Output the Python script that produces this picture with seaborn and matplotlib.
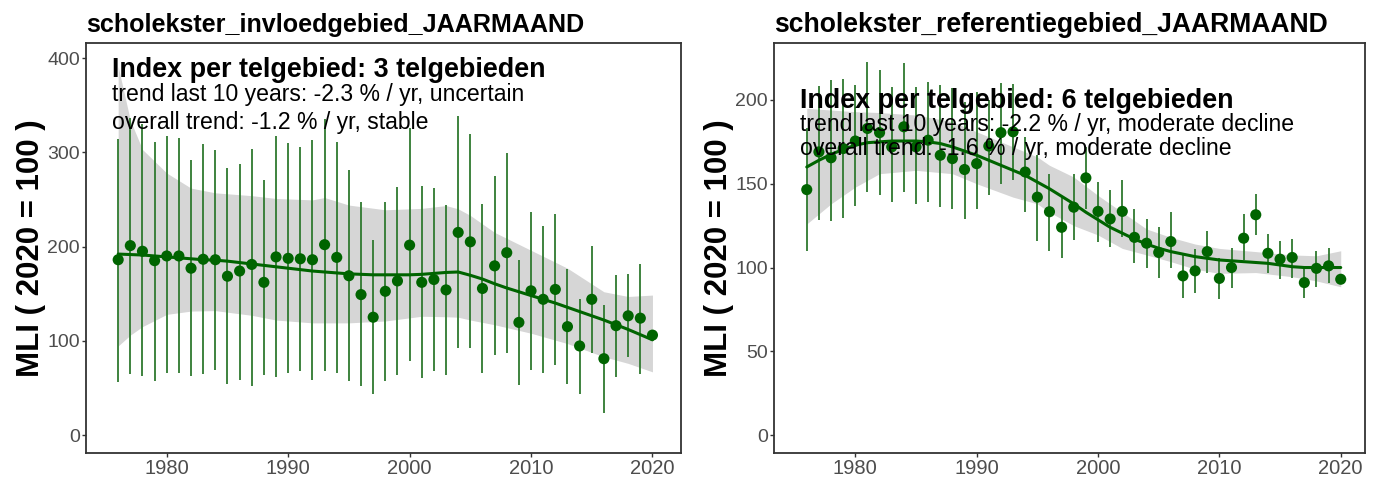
import numpy as np
import pandas as pd
import matplotlib
matplotlib.use("Agg")
import matplotlib.pyplot as plt
import seaborn as sns

years = list(range(1976, 2021))
nan = np.nan

# ---- left panel: invloedgebied ----
left_title = "scholekster_invloedgebied_JAARMAAND"
left_lines = ["Index per telgebied: 3 telgebieden",
              "trend last 10 years: -2.3 % / yr, uncertain",
              "overall trend: -1.2 % / yr, stable"]
left_index = [186, 201, 195, 185, 190, 190, 177, 186.5, 186, 168.5, 174, 181, 162, 189, 187.5,
              187, 186, 202, 188.5, 169, 149, 125, 152.5, 163.5, 201.5, 162, 165, 154, 215, 205,
              155.5, 179.5, 193.5, 119.5, 153, 144, 154.5, 115, 94.5, 144, 81, 116, 126.5, 124, 106]
left_upper = [314, 336, 330, 311, 317, 315.5, 292, 309, 302.5, 283, 287.5, 303.5, 270.5, 317, 309.5,
              306, 313.5, 335, 311, 281, 247.5, 207, 247, 263.5, 325.5, 264, 262.5, 244, 338.5, 319,
              245, 275, 299.5, 186, 236.5, 222, 234.5, 176, 144, 201, 138, 170, 170.5, 182, nan]
left_lower = [56.5, 64.5, 63, 57.5, 65.5, 65.5, 62.5, 64.5, 69, 54, 58.5, 52.5, 63.5, 62, 66,
              68, 58.5, 68, 65.5, 57.5, 52, 43.5, 57.5, 63.5, 79, 60, 68, 63.5, 92, 92,
              65.5, 85, 87.5, 53, 69, 65.5, 74.5, 54, 43.5, 86.5, 23, 62, 82.5, 64.5, nan]
left_trend = [192, 191.5, 191, 190, 189, 188, 187, 186, 185.5, 184.5, 183, 181.5, 180, 178.5, 177,
              175.5, 174, 173, 172, 171, 170.5, 170, 170, 170, 170, 170.5, 171.5, 172.5, 173, 169.5,
              165.5, 160.5, 156, 152, 148, 144, 140, 135.5, 131, 126.5, 122, 117, 112, 106.5, 101]
left_band_years = [1976, 1977, 1978, 1980, 1982, 1984, 1987, 1989, 1992, 1993, 1995, 1998, 2001,
                   2003, 2004, 2005, 2007, 2010, 2013, 2016, 2018, 2020]
left_band_upper = [391, 334, 303, 278, 262, 257, 254, 251, 249.5, 252, 244, 239, 240.5,
                   243.5, 240, 233, 215, 196, 177, 152, 147, 148.5]
left_band_lower = [94.5, 106, 115, 128, 131.5, 132, 127, 122, 119, 119, 119, 121, 126,
                   125.5, 125, 122, 117, 108, 97, 83, 76, 67]

# ---- right panel: referentiegebied ----
right_title = "scholekster_referentiegebied_JAARMAAND"
right_lines = ["Index per telgebied: 6 telgebieden",
               "trend last 10 years: -2.2 % / yr, moderate decline",
               "overall trend: -1.6 % / yr, moderate decline"]
right_index = [146.5, 169, 165.5, 171, 175.5, 183, 180.5, 172, 184, 172, 176, 167, 165, 158.5, 162,
               172.5, 180.5, 181, 157, 142, 133.3, 124, 136, 153.5, 133.5, 129, 133.5, 118, 114.5, 109,
               115.5, 95, 98, 109.5, 93.5, 100, 117.5, 131.5, 108.5, 105, 106, 91, 99.5, 101, 93]
right_upper = [183, 208.5, 212, 212.5, 209, 222.5, 218, 208, 222, 208, 211, 209, 207, 199, 205,
               200, 210, 209.5, 178, 167, 156, 142, 156, 172, 151, 146, 152, 135, 129, 124,
               133, 107.5, 111, 122, 105.5, 111.5, 132, 144, 120, 116, 117, 100.5, 110, 111.5, nan]
right_lower = [110, 128.5, 128, 129.5, 137, 145, 143, 139, 145, 138, 139, 136, 135, 129, 135,
               143, 150, 152.5, 133, 116, 110, 105.5, 116.5, 135, 115.5, 112.5, 118.5, 102.5, 99.5, 93.5,
               99.5, 82, 84.5, 96.5, 81, 88, 104.5, 119.5, 96.5, 93, 94, 82, 88.5, 90.5, nan]
right_trend = [160, 164, 167.5, 170.5, 173, 174.5, 175, 175.5, 175.5, 175.5, 175, 174, 172, 169.5, 167,
               164, 161, 158, 155, 151, 147, 142.5, 138, 133, 128.5, 124, 120.5, 117, 114, 111.5,
               109.5, 108, 106.5, 105.5, 104.5, 104, 103.5, 103, 102.5, 101.5, 100.5, 100, 100, 100, 100]
right_band_years = [1976, 1978, 1980, 1982, 1985, 1988, 1990, 1993, 1995, 1996, 1998, 2000, 2002,
                    2004, 2006, 2008, 2010, 2013, 2016, 2018, 2020]
right_band_upper = [195, 194, 193, 192.5, 191, 187, 181, 172, 166, 161, 154, 143, 133,
                    123, 118, 114, 111.4, 109.5, 107.5, 107, 110]
right_band_lower = [126, 138, 148, 156, 158, 156, 150, 142, 138, 133, 125, 119.4, 111.4,
                    107.5, 103.5, 99, 96.5, 97, 94.5, 92, 88.5]

ylabel = "MLI ( 2020 = 100 )"
xticks = [1980, 1990, 2000, 2010, 2020]
left_yticks = [0, 100, 200, 300, 400]
right_yticks = [0, 50, 100, 150, 200]

sns.set_style("white")
plt.rcParams['font.family'] = ['Liberation Sans', 'DejaVu Sans']

GREEN = "#006400"
BAR = "#2f7a2f"
BAND = "#d6d6d6"

fig = plt.figure(figsize=(13.77, 4.82), dpi=100)
W, H = 1377, 482

def make_axes(x0, x1, y0=43, y1=453):
    return fig.add_axes([x0 / W, 1 - y1 / H, (x1 - x0) / W, (y1 - y0) / H])

axL = make_axes(86, 681)
axR = make_axes(774, 1365)

panels = [
    (axL, left_title, 18.1, left_lines, left_index, left_upper, left_lower, left_trend,
     left_band_years, left_band_upper, left_band_lower, left_yticks, (-19.1, 416), (1973.35, 2022.35),
     [76.7, 101.3, 129], -0.067),
    (axR, right_title, 19.1, right_lines, right_index, right_upper, right_lower, right_trend,
     right_band_years, right_band_upper, right_band_lower, right_yticks, (-10.7, 234), (1973.3, 2022.0),
     [108.3, 130.5, 155], -0.0677),
]

for (ax, title, tsize, lines, idx, up, lo, trend, byears, bup, blo, yt, ylim, xlim, baselines, labx) in panels:
    df = pd.DataFrame({"year": years, "index": idx, "upper": up, "lower": lo, "trend": trend})
    ax.fill_between(byears, blo, bup, color=BAND, linewidth=0, zorder=1)
    dfe = df.dropna()
    ax.vlines(dfe["year"], dfe["lower"], dfe["upper"], color=BAR, linewidth=1.3, zorder=2)
    sns.lineplot(data=df, x="year", y="trend", ax=ax, color=GREEN, linewidth=2.2, zorder=3)
    sns.scatterplot(data=df, x="year", y="index", ax=ax, color=GREEN, s=64, edgecolor="none",
                    linewidth=0, zorder=4)
    ax.set_xlim(*xlim)
    ax.set_ylim(*ylim)
    ax.set_xticks(xticks)
    ax.set_yticks(yt)
    ax.set_xlabel("")
    ax.set_ylabel(ylabel, fontsize=22.5, fontweight="bold", color="black")
    ax.yaxis.set_label_coords(labx, 0.5)
    ax.tick_params(axis="both", labelsize=14, labelcolor="#4d4d4d", color="#333333",
                   length=3, width=1, direction="out", pad=1.5, left=True, bottom=True)
    ax.tick_params(axis="x", labelsize=14.5)
    for sp in ax.spines.values():
        sp.set_color("#333333")
        sp.set_linewidth(1.3)
        sp.set_visible(True)
    ax.set_title(title, loc="left", fontsize=tsize, fontweight="bold", color="black", pad=8)
    bb = ax.get_position()
    ax_top = (1 - bb.y1) * H
    ax_h = bb.height * H
    for i, (txt, base) in enumerate(zip(lines, baselines)):
        yfrac = 1 - (base - ax_top) / ax_h
        ax.text(0.044, yfrac, txt, transform=ax.transAxes, ha="left", va="baseline",
                fontsize=19.4 if i == 0 else 16.6, fontweight="bold" if i == 0 else "normal",
                color="black", zorder=6)

fig.savefig("out.png", dpi=100)
